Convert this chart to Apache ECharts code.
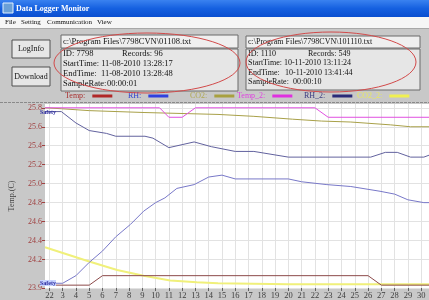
<!DOCTYPE html>
<html><head><meta charset="utf-8">
<script src="https://cdn.jsdelivr.net/npm/echarts@6.0.0/dist/echarts.min.js"></script>
<style>html,body{margin:0;padding:0;background:#c8c8c8}#c{width:429px;height:300px}</style>
</head><body><div id="c"></div><script>
// ---- data ----
const seriesNames = ['Temp', 'RH', 'CO2', 'Temp_2', 'RH_2', 'CO2_2'];
const xTickValues = [2,3,4,5,6,7,8,9,10,11,12,13,14,15,16,17,18,19,20,21,22,23,24,25,26,27,28,29,30];
const xTickLabels = ['22','3','4','5','6','7','8','9','10','11','12','13','14','15','16','17','18','19','20','21','22','23','24','25','26','27','28','29','30'];
const yTickValues = [23.9,24.2,24.4,24.6,24.8,25.0,25.2,25.4,25.6,25.8];
const yTickLabels = ['23.9','24.2','24.4','24.6','24.8','25.0','25.2','25.4','25.6','25.8'];

const tempData  = [[1.67,23.93],[5,23.93],[6,24.03],[26,24.03],[27,23.93],[30.59,23.93]];
const rhData    = [[1.67,23.95],[3,23.95],[4,24.03],[5,24.17],[6,24.29],[7,24.44],[8.1,24.57],[9.1,24.71],[10,24.80],[10.7,24.85],[11.6,24.95],[12.9,24.99],[14,25.07],[15,25.09],[16,25.05],[20,25.05],[21,25.02],[22.9,24.99],[24.7,24.97],[26.9,24.92],[28,24.89],[29,24.83],[30.2,24.80],[30.59,24.80]];
const co2Data   = [[1.67,25.80],[2.9,25.79],[5,25.77],[9.2,25.75],[14.7,25.73],[17.4,25.71],[20.3,25.68],[22.5,25.66],[24.7,25.65],[27.7,25.62],[29.2,25.60],[30.59,25.60]];
const temp2Data = [[1.67,25.80],[10.3,25.80],[11,25.70],[12,25.70],[13,25.80],[22,25.80],[23,25.70],[30.59,25.70]];
const rh2Data   = [[1.67,25.76],[2.9,25.76],[4,25.64],[5,25.56],[6.3,25.53],[7,25.50],[9.2,25.50],[9.8,25.48],[11,25.38],[12.9,25.44],[14.2,25.39],[16,25.34],[17.4,25.34],[20,25.28],[26.2,25.28],[27.3,25.33],[28.2,25.33],[29.2,25.28],[30.2,25.28],[30.59,25.30]];
const co22Data  = [[1.67,24.33],[5,24.18],[7.1,24.09],[9.1,24.03],[11.1,23.98],[13.1,23.96],[14.7,23.95],[20,23.94],[30.59,23.94]];

// ---- styling ----
const lineColors   = ['#8c4a4a','#7878c8','#a8a048','#e050e0','#62629e','#f0f07a'];
const legendIcon   = ['#b02828','#3040e0','#a8a040','#e030e0','#2a2a78','#f0f050'];
const legendText   = ['#a83030','#3040d0','#b0a850','#e040e0','#3a3a80','#e8e860'];
const legendLeft   = [65, 128, 190, 237, 304, 357];
const dataSets = [tempData, rhData, co2Data, temp2Data, rh2Data, co22Data];
const SERIF = '"Liberation Serif", "DejaVu Serif", serif';

function lookup(vals, labels, v) {
  for (let i = 0; i < vals.length; i++) if (Math.abs(vals[i] - v) < 1e-6) return labels[i];
  return '';
}

const chart = echarts.init(document.getElementById('c'), null, {renderer: 'canvas'});

const txt = (x, y, s, font, fill, align) => ({
  type: 'text', x: x, y: y, silent: true, z: 20,
  style: {text: s, font: font, fill: fill || '#111', textAlign: align || 'left', align: align || 'left', textVerticalAlign: 'middle', verticalAlign: 'middle'}
});

const graphic = [
  // title bar
  {type:'rect', shape:{x:0,y:0,width:429,height:17}, z:10, style:{fill:new echarts.graphic.LinearGradient(0,0,0,1,[{offset:0,color:'#3a82f0'},{offset:0.5,color:'#1560e0'},{offset:1,color:'#0a4ed0'}])}},
  {type:'rect', shape:{x:3,y:3,width:10,height:10}, z:11, style:{fill:'#6aa0d8', stroke:'#dfefff', lineWidth:1}},
  txt(16, 9, 'Data Logger Monitor', 'bold 8px ' + SERIF, '#ffffff'),
  // menu bar
  {type:'rect', shape:{x:0,y:17,width:429,height:11}, z:10, style:{fill:'#f6f6f6'}},
  txt(5, 22.5, 'File', '7px ' + SERIF, '#111'),
  txt(21, 22.5, 'Setting', '7px ' + SERIF, '#111'),
  txt(47, 22.5, 'Communication', '7px ' + SERIF, '#111'),
  txt(97, 22.5, 'View', '7px ' + SERIF, '#111'),
  {type:'line', shape:{x1:0,y1:28.5,x2:429,y2:28.5}, z:10, style:{stroke:'#a8a8a8', lineWidth:1}},
  // buttons
  {type:'rect', shape:{x:12,y:40,width:38,height:18}, z:10, style:{fill:'#e6e6e6', stroke:'#505050', lineWidth:1}},
  txt(31, 49, 'LogInfo', '8px ' + SERIF, '#111', 'center'),
  {type:'rect', shape:{x:12,y:67,width:38,height:19}, z:10, style:{fill:'#e6e6e6', stroke:'#505050', lineWidth:1}},
  txt(31, 76.5, 'Download', '8px ' + SERIF, '#111', 'center'),
  // info box 1
  {type:'rect', shape:{x:61,y:35,width:177,height:13}, z:10, style:{fill:'#efefef', stroke:'#6a6a6a', lineWidth:1}},
  {type:'rect', shape:{x:61,y:49,width:177,height:42}, z:10, style:{fill:'#e6e6e6', stroke:'#6a6a6a', lineWidth:1}},
  txt(63, 42, 'c:\\Program Files\\7798CVN\\01108.txt', '8.5px ' + SERIF),
  txt(63, 54, 'ID: 7798', '8.5px ' + SERIF),
  txt(122, 54, 'Records: 96', '8.5px ' + SERIF),
  txt(63, 64, 'StartTime: 11-08-2010 13:28:17', '8.5px ' + SERIF),
  txt(63, 74, 'EndTime:', '8.5px ' + SERIF),
  txt(101, 74, '11-08-2010 13:28:48', '8.5px ' + SERIF),
  txt(63, 84, 'SampleRate:', '8.5px ' + SERIF),
  txt(107, 84, '00:00:01', '8.5px ' + SERIF),
  // info box 2
  {type:'rect', shape:{x:246,y:36,width:174,height:12}, z:10, style:{fill:'#efefef', stroke:'#6a6a6a', lineWidth:1}},
  {type:'rect', shape:{x:246,y:49,width:174,height:41}, z:10, style:{fill:'#e6e6e6', stroke:'#6a6a6a', lineWidth:1}},
  txt(248, 42, 'c:\\Program Files\\7798CVN\\101110.txt', '8px ' + SERIF),
  txt(248, 54, 'ID: 1110', '8px ' + SERIF),
  txt(308, 54, 'Records: 549', '8px ' + SERIF),
  txt(248, 63, 'StartTime: 10-11-2010 13:11:24', '8px ' + SERIF),
  txt(248, 73, 'EndTime:', '8px ' + SERIF),
  txt(285, 73, '10-11-2010 13:41:44', '8px ' + SERIF),
  txt(248, 82, 'SampleRate:', '8px ' + SERIF),
  txt(293, 82, '00:00:10', '8px ' + SERIF),
  // red ellipses
  {type:'ellipse', shape:{cx:147,cy:63,rx:93,ry:30}, z:30, silent:true, style:{fill:'none', stroke:'#d24a4a', lineWidth:1}},
  {type:'ellipse', shape:{cx:331,cy:62,rx:85,ry:30}, z:30, silent:true, style:{fill:'none', stroke:'#d24a4a', lineWidth:1}},
  // separator below legend
  {type:'line', shape:{x1:0,y1:102.5,x2:429,y2:102.5}, z:10, style:{stroke:'#8a8a8a', lineWidth:1, lineDash:[3,1]}},
  // safety tags
  {type:'text', x:40, y:112, z:40, silent:true, style:{text:'Safety', font:'bold 6px ' + SERIF, fill:'#2a2aa0', textVerticalAlign:'middle', verticalAlign:'middle'}},
  {type:'text', x:40, y:283, z:40, silent:true, style:{text:'Safety', font:'bold 6px ' + SERIF, fill:'#2a2aa0', backgroundColor:'#c8d4ff', textVerticalAlign:'middle', verticalAlign:'middle'}}
];

const legends = seriesNames.map((n, i) => ({
  left: legendLeft[i], top: 92, padding: 0, align: 'right', icon: 'rect',
  itemWidth: 20, itemHeight: 3, itemGap: 0, selectedMode: false,
  formatter: (name) => name + ':',
  textStyle: {color: legendText[i], fontSize: 8, fontFamily: SERIF, padding: [0, 2, 0, 0]},
  data: [{name: n, itemStyle: {color: legendIcon[i]}}]
}));

const series = seriesNames.map((n, i) => ({
  name: n, type: 'line', data: dataSets[i], showSymbol: false, symbol: 'none',
  lineStyle: {width: i === 5 ? 2 : 1, color: lineColors[i]},
  itemStyle: {color: lineColors[i]},
  z: i === 5 ? 2 : 3,
  animation: false, silent: true
}));

chart.setOption({
  backgroundColor: '#c8c8c8',
  animation: false,
  graphic: graphic,
  legend: legends,
  grid: {left: 38, right: 0, top: 104, bottom: 12, show: true, backgroundColor: '#ffffff', borderWidth: 0, containLabel: false},
  xAxis: {
    type: 'value', min: 1.67, max: 30.59,
    axisLine: {show: false},
    axisTick: {show: true, length: 3, lineStyle: {color: '#606060'}, customValues: xTickValues},
    axisLabel: {customValues: xTickValues, formatter: (v) => lookup(xTickValues, xTickLabels, v), color: '#404040', fontSize: 8.5, fontFamily: SERIF, margin: 3},
    splitLine: {show: true, lineStyle: {color: '#e2e2e2', width: 1}}
  },
  yAxis: {
    type: 'value', min: 23.9, max: 25.84,
    name: 'Temp.(C)', nameLocation: 'middle', nameGap: 29,
    nameTextStyle: {color: '#404040', fontSize: 8, fontFamily: SERIF},
    axisLine: {show: false},
    axisTick: {show: true, length: 3, lineStyle: {color: '#a04040'}, customValues: yTickValues},
    axisLabel: {customValues: yTickValues, formatter: (v) => lookup(yTickValues, yTickLabels, v), color: '#a04040', fontSize: 8, fontFamily: SERIF, margin: 3},
    splitLine: {show: true, lineStyle: {color: '#e2e2e2', width: 1}}
  },
  series: series
});
</script></body></html>
